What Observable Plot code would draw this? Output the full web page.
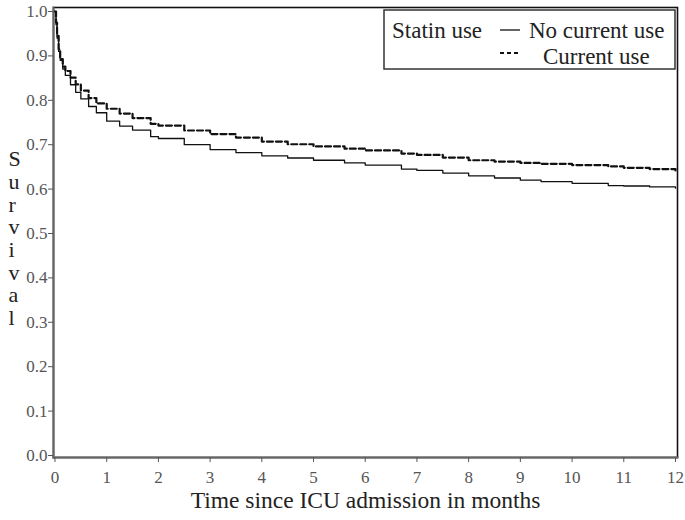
<!DOCTYPE html>
<html><head><meta charset="utf-8">
<script src="https://cdn.jsdelivr.net/npm/d3@7"></script>
<script src="https://cdn.jsdelivr.net/npm/@observablehq/plot@0.6"></script>
<style>body{margin:0;background:#fff;} #chart{width:685px;height:520px;}</style>
</head><body><div id="chart"></div>
<script>
const months       = [0, 0.02, 0.04, 0.07, 0.1, 0.15, 0.2, 0.3, 0.4, 0.5, 0.65, 0.8, 1.0, 1.25, 1.5, 1.85, 2.0, 2.5, 3.0, 3.5, 4.0, 4.5, 5.0, 5.6, 6.0, 6.7, 7.0, 7.5, 8.0, 8.5, 9.0, 9.4, 10.0, 10.7, 11.0, 11.5, 12.0];
const noCurrentUse = [1.0, 0.97, 0.94, 0.91, 0.89, 0.87, 0.856, 0.835, 0.818, 0.803, 0.786, 0.772, 0.753, 0.742, 0.733, 0.718, 0.714, 0.700, 0.689, 0.682, 0.675, 0.670, 0.665, 0.659, 0.654, 0.645, 0.642, 0.636, 0.630, 0.625, 0.620, 0.617, 0.613, 0.608, 0.607, 0.605, 0.602];
const currentUse   = [1.0, 0.975, 0.945, 0.915, 0.893, 0.876, 0.866, 0.851, 0.836, 0.822, 0.805, 0.793, 0.781, 0.770, 0.760, 0.747, 0.743, 0.732, 0.724, 0.716, 0.707, 0.701, 0.696, 0.691, 0.687, 0.680, 0.677, 0.671, 0.665, 0.662, 0.659, 0.657, 0.654, 0.651, 0.648, 0.645, 0.642];
const xTicks = [0, 1, 2, 3, 4, 5, 6, 7, 8, 9, 10, 11, 12];
const yTicks = [0, 0.1, 0.2, 0.3, 0.4, 0.5, 0.6, 0.7, 0.8, 0.9, 1.0];
const yLabel = "Survival";
const xLabel = "Time since ICU admission in months";
const legendTitle = "Statin use";
const seriesNames = ["No current use", "Current use"];

const rowsNo = months.map((m, i) => ({m, s: noCurrentUse[i], g: seriesNames[0]}));
const rowsCur = months.map((m, i) => ({m, s: currentUse[i], g: seriesNames[1]}));

const font = "'Liberation Serif', 'DejaVu Serif', serif";
const chart = Plot.plot({
  width: 685, height: 520,
  marginLeft: 53, marginRight: 8, marginTop: 7, marginBottom: 63,
  style: {fontFamily: font, background: "white", color: "#222"},
  x: {domain: [-0.029, 12.039]},
  y: {domain: [-0.0045, 1.009]},
  marks: [
    Plot.frame({stroke: "#111", strokeWidth: 1.6}),
    Plot.frame({anchor: "left", stroke: "#666", strokeWidth: 2}),
    Plot.frame({anchor: "bottom", stroke: "#666", strokeWidth: 2}),
    Plot.axisY({ticks: yTicks, tickFormat: d => d.toFixed(1), tickSize: 5, tickPadding: 1, fontSize: 17, color: "#555", label: null}),
    Plot.axisX({ticks: xTicks, tickSize: 5, tickPadding: 8, fontSize: 17, color: "#555", label: null}),
    Plot.line(rowsNo, {x: "m", y: "s", curve: "step-after", stroke: "#111", strokeWidth: 1.3}),
    Plot.line(rowsCur, {x: "m", y: "s", curve: "step-after", stroke: "#111", strokeWidth: 2.2, strokeDasharray: "6,3"}),
    Plot.text([xLabel], {frameAnchor: "bottom", dy: 50, fontSize: 23.5, fill: "#222"}),
    Plot.text([yLabel.split("").join("\n")], {frameAnchor: "left", dx: -45, dy: 6, fontSize: 22, lineHeight: 1.03, fill: "#222"})
  ]
});
document.getElementById("chart").appendChild(chart);

const svg = d3.select(chart);
svg.selectAll('g[aria-label$="tick label"]').attr("font-size", 17);
svg.selectAll('g[aria-label$="tick label"] text').style("font-size", "17px");

const lg = svg.append("g").attr("font-family", font).attr("fill", "#222").attr("text-anchor", "start");
lg.append("rect").attr("x", 384).attr("y", 10).attr("width", 291).attr("height", 59)
  .attr("fill", "white").attr("stroke", "#333").attr("stroke-width", 1.5);
lg.append("text").attr("x", 392).attr("y", 38).attr("font-size", 23).text(legendTitle);
lg.append("line").attr("x1", 500).attr("x2", 520).attr("y1", 30).attr("y2", 30)
  .attr("stroke", "#111").attr("stroke-width", 1.3);
lg.append("text").attr("x", 529).attr("y", 38).attr("font-size", 23).text(seriesNames[0]);
lg.append("line").attr("x1", 500).attr("x2", 520).attr("y1", 53).attr("y2", 53)
  .attr("stroke", "#111").attr("stroke-width", 2.2).attr("stroke-dasharray", "4,3");
lg.append("text").attr("x", 543).attr("y", 64).attr("font-size", 23).text(seriesNames[1]);
</script>
</body></html>
